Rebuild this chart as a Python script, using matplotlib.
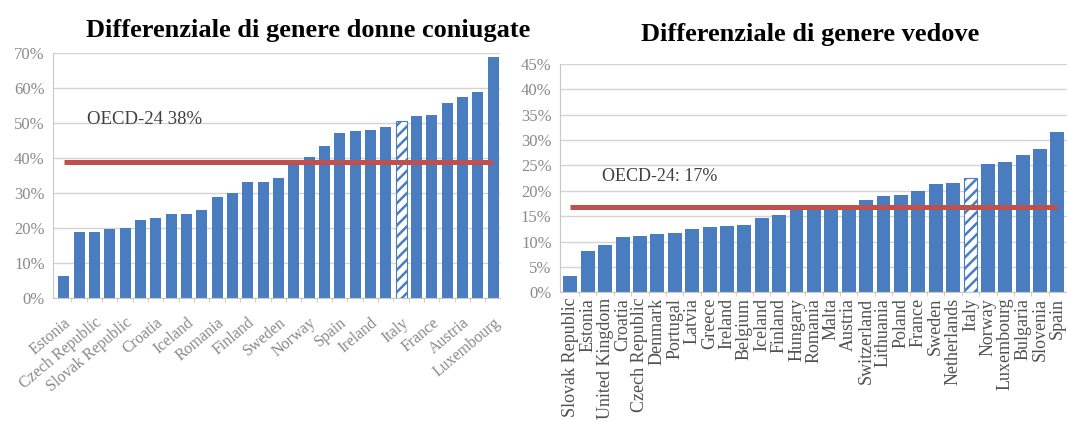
import numpy as np
import matplotlib
matplotlib.use("Agg")
import matplotlib.pyplot as plt

plt.rcParams['font.family'] = ['Liberation Serif', 'DejaVu Serif']
plt.rcParams['hatch.linewidth'] = 1.8

# left panel: married women (29 bars, only every other one is labelled)
sposate_valori = [6.2, 18.8, 18.8, 19.8, 20.1, 22.4, 22.9, 23.9, 23.9, 25.1,
                  28.8, 30.1, 33.0, 33.1, 34.2, 38.5, 40.3, 43.4, 47.2, 47.8,
                  47.9, 48.9, 50.5, 51.9, 52.2, 55.6, 57.5, 58.7, 68.7]
sposate_etichette = ['Estonia', 'Czech Republic', 'Slovak Republic', 'Croatia',
                     'Iceland', 'Romania', 'Finland', 'Sweden', 'Norway', 'Spain',
                     'Ireland', 'Italy', 'France', 'Austria', 'Luxembourg']
sposate_oecd = 38.8
sposate_italia = 22

# right panel: widows
vedove_paesi = ['Slovak Republic', 'Estonia', 'United Kingdom', 'Croatia',
                'Czech Republic', 'Denmark', 'Portugal', 'Latvia', 'Greece',
                'Ireland', 'Belgium', 'Iceland', 'Finland', 'Hungary', 'Romania',
                'Malta', 'Austria', 'Switzerland', 'Lithuania', 'Poland', 'France',
                'Sweden', 'Netherlands', 'Italy', 'Norway', 'Luxembourg',
                'Bulgaria', 'Slovenia', 'Spain']
vedove_valori = [3.2, 8.2, 9.4, 11.0, 11.1, 11.4, 11.7, 12.5, 12.8, 13.1,
                 13.3, 14.6, 15.3, 16.8, 17.0, 17.0, 17.1, 18.2, 18.9, 19.1,
                 20.0, 21.4, 21.5, 22.6, 25.2, 25.6, 27.1, 28.2, 31.6]
vedove_oecd = 16.9
vedove_italia = 23

blu = '#4a7dc0'
rosso = '#c0504d'
grigio = '#8a8a8a'

fig = plt.figure(figsize=(10.67, 4.22), dpi=100)
ax1 = fig.add_axes([0.0497, 0.2938, 0.419, 0.581])
ax2 = fig.add_axes([0.5248, 0.3073, 0.4752, 0.541])


def pannello(ax, valori, italia, oecd, larghezza, ymax, passo, fs):
    x = np.arange(len(valori))
    colori = [blu] * len(valori)
    colori[italia] = 'white'
    barre = ax.bar(x, valori, width=larghezza, color=colori, zorder=2)
    barre[italia].set_hatch('///')
    barre[italia].set_edgecolor(blu)
    barre[italia].set_linewidth(0.8)
    ax.plot([0, len(valori) - 1], [oecd, oecd], color=rosso, lw=3.6,
            solid_capstyle='butt', zorder=3)
    ax.set_ylim(0, ymax)
    ax.set_yticks(np.arange(0, ymax + 0.1, passo))
    ax.set_yticklabels([f'{int(v)}%' for v in np.arange(0, ymax + 0.1, passo)],
                       color=grigio, fontsize=fs)
    ax.yaxis.grid(True, color='#d4d4d4', lw=1, zorder=0)
    ax.set_axisbelow(True)
    for s in ['top', 'right']:
        ax.spines[s].set_visible(False)
    ax.spines['left'].set_color('#c8c8c8')
    ax.spines['bottom'].set_color('#c8c8c8')
    ax.tick_params(axis='y', length=0, pad=6)
    ax.set_xticks(x[:-1] + 0.5, minor=True)
    ax.tick_params(axis='x', which='minor', length=3, color='#e0c890')
    ax.tick_params(axis='x', which='major', length=0)


pannello(ax1, sposate_valori, sposate_italia, sposate_oecd, 0.72, 70, 10, 12)
ax1.set_xlim(-0.7, len(sposate_valori) - 1 + 0.46)
ax1.set_xticks(np.arange(0, len(sposate_valori), 2))
ax1.set_xticklabels(sposate_etichette, rotation=40, ha='right',
                    rotation_mode='anchor', color=grigio, fontsize=11.5)
ax1.tick_params(axis='x', pad=12)
ax1.text(1.5, 51, 'OECD-24 38%', fontsize=13.5, color='#404040', va='center')
fig.text(0.289, 0.928, 'Differenziale di genere donne coniugate',
         ha='center', va='center', fontsize=19, fontweight='bold')

pannello(ax2, vedove_valori, vedove_italia, vedove_oecd, 0.8, 45, 5, 12)
ax2.set_xlim(-0.6, len(vedove_valori) - 1 + 0.55)
ax2.set_xticks(np.arange(len(vedove_paesi)))
ax2.set_xticklabels(vedove_paesi, rotation=90, ha='center', va='top',
                    color='#505050', fontsize=13)
ax2.tick_params(axis='x', pad=4)
ax2.text(1.8, 22.8, 'OECD-24: 17%', fontsize=13, color='#404040', va='center')
fig.text(0.759, 0.918, 'Differenziale di genere vedove',
         ha='center', va='center', fontsize=19, fontweight='bold')

fig.savefig('out.png', dpi=100)
